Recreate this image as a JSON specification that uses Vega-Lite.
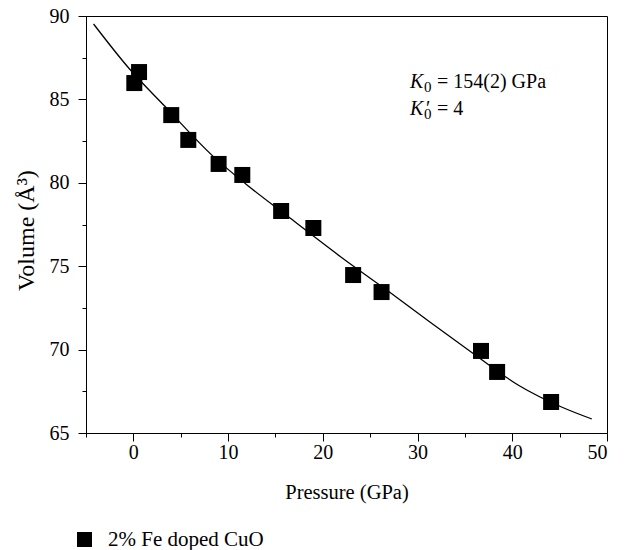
{
  "$schema": "https://vega.github.io/schema/vega-lite/v6.json",
  "autosize": {"type": "none"},
  "padding": {"left": 86, "top": 16, "right": 20, "bottom": 117},
  "width": 521,
  "height": 417,
  "background": "white",
  "config": {
    "view": {"stroke": "black", "strokeWidth": 1},
    "font": "Liberation Serif",
    "axis": {
      "domainColor": "black",
      "tickColor": "black",
      "labelColor": "black",
      "titleColor": "black",
      "labelFont": "Liberation Serif",
      "titleFont": "Liberation Serif",
      "labelFontSize": 20,
      "titleFontSize": 20,
      "titleFontWeight": "normal",
      "grid": false
    }
  },
  "datasets": {
    "pts": [
      {"P": 0.1, "V": 85.98, "series": "2% Fe doped CuO"},
      {"P": 0.6, "V": 86.64, "series": "2% Fe doped CuO"},
      {"P": 4.0, "V": 84.06, "series": "2% Fe doped CuO"},
      {"P": 5.8, "V": 82.57, "series": "2% Fe doped CuO"},
      {"P": 9.0, "V": 81.13, "series": "2% Fe doped CuO"},
      {"P": 11.5, "V": 80.47, "series": "2% Fe doped CuO"},
      {"P": 15.6, "V": 78.31, "series": "2% Fe doped CuO"},
      {"P": 19.0, "V": 77.29, "series": "2% Fe doped CuO"},
      {"P": 23.2, "V": 74.47, "series": "2% Fe doped CuO"},
      {"P": 26.2, "V": 73.45, "series": "2% Fe doped CuO"},
      {"P": 36.7, "V": 69.92, "series": "2% Fe doped CuO"},
      {"P": 38.4, "V": 68.66, "series": "2% Fe doped CuO"},
      {"P": 44.1, "V": 66.86, "series": "2% Fe doped CuO"}
    ],
    "fit": [
      {"P": -4.2, "V": 89.52},
      {"P": -0.4, "V": 86.82},
      {"P": 3.3, "V": 84.6},
      {"P": 8.4, "V": 81.6},
      {"P": 12.0, "V": 79.87},
      {"P": 16.5, "V": 77.9},
      {"P": 21.8, "V": 75.6},
      {"P": 27.1, "V": 73.42},
      {"P": 31.3, "V": 71.65},
      {"P": 35.8, "V": 69.8},
      {"P": 40.7, "V": 67.85},
      {"P": 45.2, "V": 66.56},
      {"P": 48.4, "V": 65.84}
    ],
    "notes": [
      {"P": 29.2, "V": 85.68, "k": "K", "sub": "0", "prime": "", "rest": "= 154(2) GPa"},
      {"P": 29.2, "V": 84.06, "k": "K", "sub": "0", "prime": "′", "rest": "= 4"}
    ]
  },
  "encoding": {
    "x": {
      "field": "P", "type": "quantitative",
      "scale": {"domain": [-5, 50], "nice": false, "zero": false},
      "axis": {
        "title": "Pressure (GPa)",
        "values": [-5, 0, 5, 10, 15, 20, 25, 30, 35, 40, 45, 50],
        "labelExpr": "datum.value % 10 === 0 ? datum.label : ''",
        "tickSize": {"condition": {"test": "datum.value % 10 === 0", "value": 8}, "value": 4},
        "labelPadding": 1,
        "titleFontSize": 20.5,
        "titleBaseline": "alphabetic",
        "titleY": 65
      }
    },
    "y": {
      "field": "V", "type": "quantitative",
      "scale": {"domain": [65, 90], "nice": false, "zero": false},
      "axis": {
        "title": "Volume (Å³)",
        "values": [65, 67.5, 70, 72.5, 75, 77.5, 80, 82.5, 85, 87.5, 90],
        "labelExpr": "datum.value % 5 === 0 ? datum.label : ''",
        "tickSize": {"condition": {"test": "datum.value % 5 === 0", "value": 8}, "value": 4},
        "labelPadding": 9,
        "titleFontSize": 24,
        "titleBaseline": "alphabetic",
        "titleX": -53,
        "titleY": 214
      }
    }
  },
  "layer": [
    {
      "data": {"name": "fit"},
      "mark": {"type": "line", "color": "black", "strokeWidth": 1.3, "interpolate": "monotone"},
      "encoding": {}
    },
    {
      "data": {"name": "pts"},
      "mark": {"type": "point", "filled": true, "size": 256, "opacity": 1},
      "encoding": {
        "shape": {"field": "series", "type": "nominal", "scale": {"range": ["square"]}, "legend": null},
        "color": {
          "field": "series", "type": "nominal",
          "scale": {"range": ["black"]},
          "legend": {
            "orient": "none", "legendX": -12, "legendY": 513, "title": null,
            "symbolType": "square", "symbolSize": 225, "symbolStrokeWidth": 0,
            "labelFontSize": 21, "labelFont": "Liberation Serif", "labelColor": "black",
            "labelOffset": 13
          }
        }
      }
    },
    {
      "data": {"name": "notes"},
      "mark": {"type": "text", "align": "left", "baseline": "alphabetic", "fontSize": 20, "fontStyle": "italic", "font": "Liberation Serif", "color": "black"},
      "encoding": {"text": {"field": "k"}}
    },
    {
      "data": {"name": "notes"},
      "mark": {"type": "text", "align": "left", "baseline": "alphabetic", "fontSize": 15, "font": "Liberation Serif", "color": "black", "dx": 14, "dy": 4},
      "encoding": {"text": {"field": "sub"}}
    },
    {
      "data": {"name": "notes"},
      "mark": {"type": "text", "align": "left", "baseline": "alphabetic", "fontSize": 20, "font": "Liberation Serif", "color": "black", "dx": 16},
      "encoding": {"text": {"field": "prime"}}
    },
    {
      "data": {"name": "notes"},
      "mark": {"type": "text", "align": "left", "baseline": "alphabetic", "fontSize": 20, "font": "Liberation Serif", "color": "black", "dx": 27},
      "encoding": {"text": {"field": "rest"}}
    }
  ]
}
